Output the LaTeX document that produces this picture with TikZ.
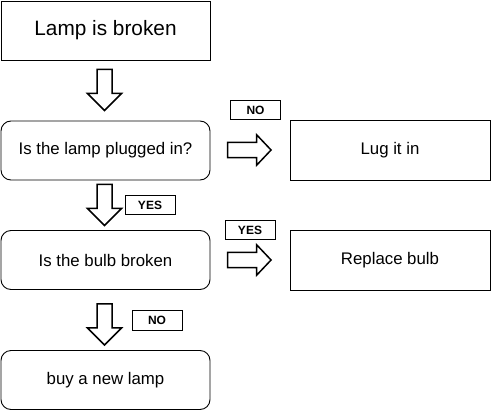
\documentclass[tikz,border=0pt]{standalone}
\usepackage{fontspec}
\setmainfont{Liberation Sans}
\usetikzlibrary{calc}
\tikzset{
  box/.style={draw=black, line width=0.9pt, minimum width=209pt, minimum height=59pt, inner sep=0pt, font=\fontsize{16.8}{20}\selectfont},
  rbox/.style={box, rounded corners=10pt},
  tag/.style={draw=black, line width=0.9pt, minimum width=50pt, minimum height=19.5pt, inner sep=0pt, font=\bfseries\fontsize{12}{14}\selectfont},
  blk/.style={draw=black, line width=1.5pt, fill=white, line join=miter},
  downblk/.pic={\draw[blk] (-7.5,0) -- (7.5,0) -- (7.5,24) -- (17,24) -- (0,41) -- (-17,24) -- (-7.5,24) -- cycle;},
  rightblk/.pic={\draw[blk] (0,-7.7) -- (29,-7.7) -- (29,-15.3) -- (43.5,0) -- (29,15.3) -- (29,7.7) -- (0,7.7) -- cycle;}
}
\begin{document}
\begin{tikzpicture}[x=1pt,y=-1pt]
\useasboundingbox (0,0) rectangle (492,412);
\node[box, font=\fontsize{20.8}{24}\selectfont] (b1) at (105.5,30.5) {Lamp is broken};
\node[rbox] (b2) at (105.5,150.5) {Is the lamp plugged in?};
\node[rbox] (b3) at (105.5,260) {Is the bulb broken};
\node[rbox] (b4) at (105.5,380) {buy a new lamp};
\node[box, minimum width=200pt, minimum height=60pt] (r1) at (390,150) {Lug it in};
\node[box, minimum width=200pt, minimum height=60pt] (r2) at (390,260) {Replace bulb};
\node[tag] (t1) at (255.5,110) {NO};
\node[tag] (t2) at (250,230) {YES};
\node[tag] (t3) at (150,205) {YES};
\node[tag] (t4) at (157,320.5) {NO};
\pic at ($(b1.south)+(-1,9)$) {downblk};
\pic at ($(b2.south)+(-1,4)$) {downblk};
\pic at ($(b3.south)+(-1,14)$) {downblk};
\pic at ($(r1.west)+(-62,0)$) {rightblk};
\pic at ($(r2.west)+(-62,0)$) {rightblk};
\end{tikzpicture}
\end{document}
